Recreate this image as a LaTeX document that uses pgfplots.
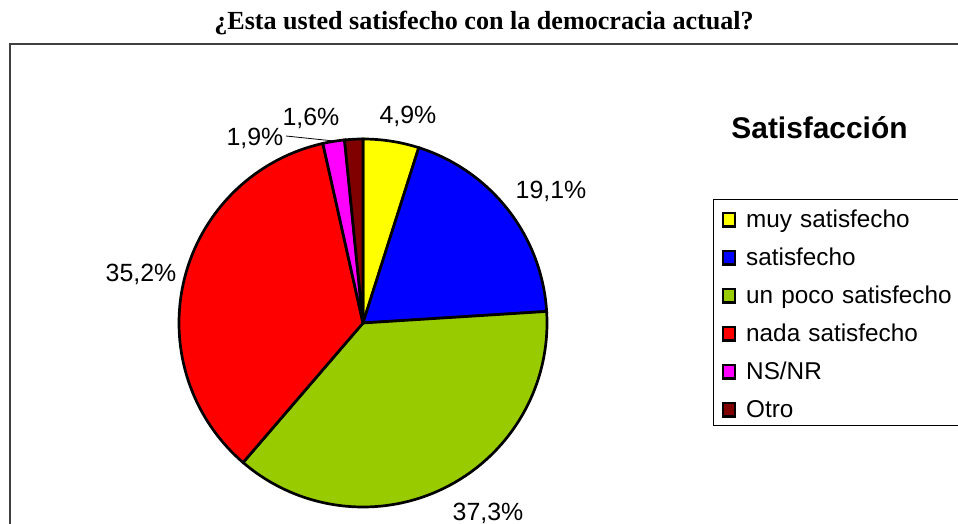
\documentclass[border=0pt]{standalone}
\usepackage{pgfplots}
\pgfplotsset{compat=1.18}
\usepackage{fontspec}
\setmainfont{Liberation Sans}
\newfontfamily\timesfont{Liberation Serif}
\definecolor{cYel}{HTML}{FFFF00}
\definecolor{cBlu}{HTML}{0000FF}
\definecolor{cGrn}{HTML}{99CC00}
\definecolor{cRed}{HTML}{FF0000}
\definecolor{cMag}{HTML}{FF00FF}
\definecolor{cDrk}{HTML}{800000}
\begin{document}
\begin{tikzpicture}
\begin{axis}[
  width=958bp, height=524bp, scale only axis,
  xmin=0, xmax=958, ymin=0, ymax=524, y dir=reverse,
  hide axis,
  legend image code/.code={\fill[#1] (0bp,-9bp) rectangle (12bp,4.5bp);
     \draw[draw=black, fill=none, line width=1.3bp] (0bp,-9bp) rectangle (12bp,4.5bp);},
  legend style={at={(axis cs:713,199)}, anchor=north west, draw=black, line width=1bp,
    font=\fontsize{24.4}{28}\selectfont, inner xsep=8bp, inner ysep=2bp,
    row sep=6bp, column sep=0bp,
    nodes={inner sep=0bp, text height=26bp, text depth=6bp, text width=240bp, align=left},
    cells={anchor=west}},
]
% percentages: 4.9, 19.1, 37.3, 35.2, 1.9, 1.6 (clockwise from 12 o'clock)
\addplot[fill=cYel, draw=black, line width=2.7bp, domain={90}:{90-3.6*4.9}, samples=30, variable=\t]
  ({363+184*cos(\t)},{323-184*sin(\t)}) -- (axis cs:363,323) -- cycle;
\addlegendentry{\hspace{10bp}muy satisfecho}
\addplot[fill=cBlu, draw=black, line width=2.7bp, domain={90-3.6*4.9}:{90-3.6*(4.9+19.1)}, samples=60, variable=\t]
  ({363+184*cos(\t)},{323-184*sin(\t)}) -- (axis cs:363,323) -- cycle;
\addlegendentry{\hspace{10bp}satisfecho}
\addplot[fill=cGrn, draw=black, line width=2.7bp, domain={90-3.6*(4.9+19.1)}:{90-3.6*(4.9+19.1+37.3)}, samples=100, variable=\t]
  ({363+184*cos(\t)},{323-184*sin(\t)}) -- (axis cs:363,323) -- cycle;
\addlegendentry{\hspace{10bp}un poco satisfecho}
\addplot[fill=cRed, draw=black, line width=2.7bp, domain={90-3.6*(4.9+19.1+37.3)}:{90-3.6*(4.9+19.1+37.3+35.2)}, samples=100, variable=\t]
  ({363+184*cos(\t)},{323-184*sin(\t)}) -- (axis cs:363,323) -- cycle;
\addlegendentry{\hspace{10bp}nada satisfecho}
\addplot[fill=cMag, draw=black, line width=2.7bp, domain={90-3.6*(4.9+19.1+37.3+35.2)}:{90-3.6*(4.9+19.1+37.3+35.2+1.9)}, samples=10, variable=\t]
  ({363+184*cos(\t)},{323-184*sin(\t)}) -- (axis cs:363,323) -- cycle;
\addlegendentry{\hspace{10bp}NS/NR}
\addplot[fill=cDrk, draw=black, line width=2.7bp, domain={90-3.6*(4.9+19.1+37.3+35.2+1.9)}:{90-3.6*(4.9+19.1+37.3+35.2+1.9+1.6)}, samples=10, variable=\t]
  ({363+184*cos(\t)},{323-184*sin(\t)}) -- (axis cs:363,323) -- cycle;
\addlegendentry{\hspace{10bp}Otro}

% frame
\draw[line width=2bp, black!75] (axis cs:10,540) -- (axis cs:10,44) -- (axis cs:970,44);
% title
\node[anchor=base, font=\timesfont\bfseries\fontsize{26.2}{30}\selectfont] at (axis cs:484,30) {¿Esta usted satisfecho con la democracia actual?};
\node[anchor=base, font=\bfseries\fontsize{30}{36}\selectfont] at (axis cs:819.5,138) {Satisfacción};
% data labels
\begin{scope}[every node/.style={anchor=base, font=\fontsize{25}{28}\selectfont, inner sep=0pt}]
\node at (axis cs:408,123) {4,9\%};
\node at (axis cs:551,198) {19,1\%};
\node at (axis cs:488,520) {37,3\%};
\node at (axis cs:141,281) {35,2\%};
\node at (axis cs:255,145) {1,9\%};
\node at (axis cs:311,125) {1,6\%};
\end{scope}
\draw[line width=0.8bp] (axis cs:286,136) -- (axis cs:334,141);
\end{axis}
\pgfresetboundingbox
\path (current axis.south west) rectangle (current axis.north east);
\end{tikzpicture}
\end{document}
